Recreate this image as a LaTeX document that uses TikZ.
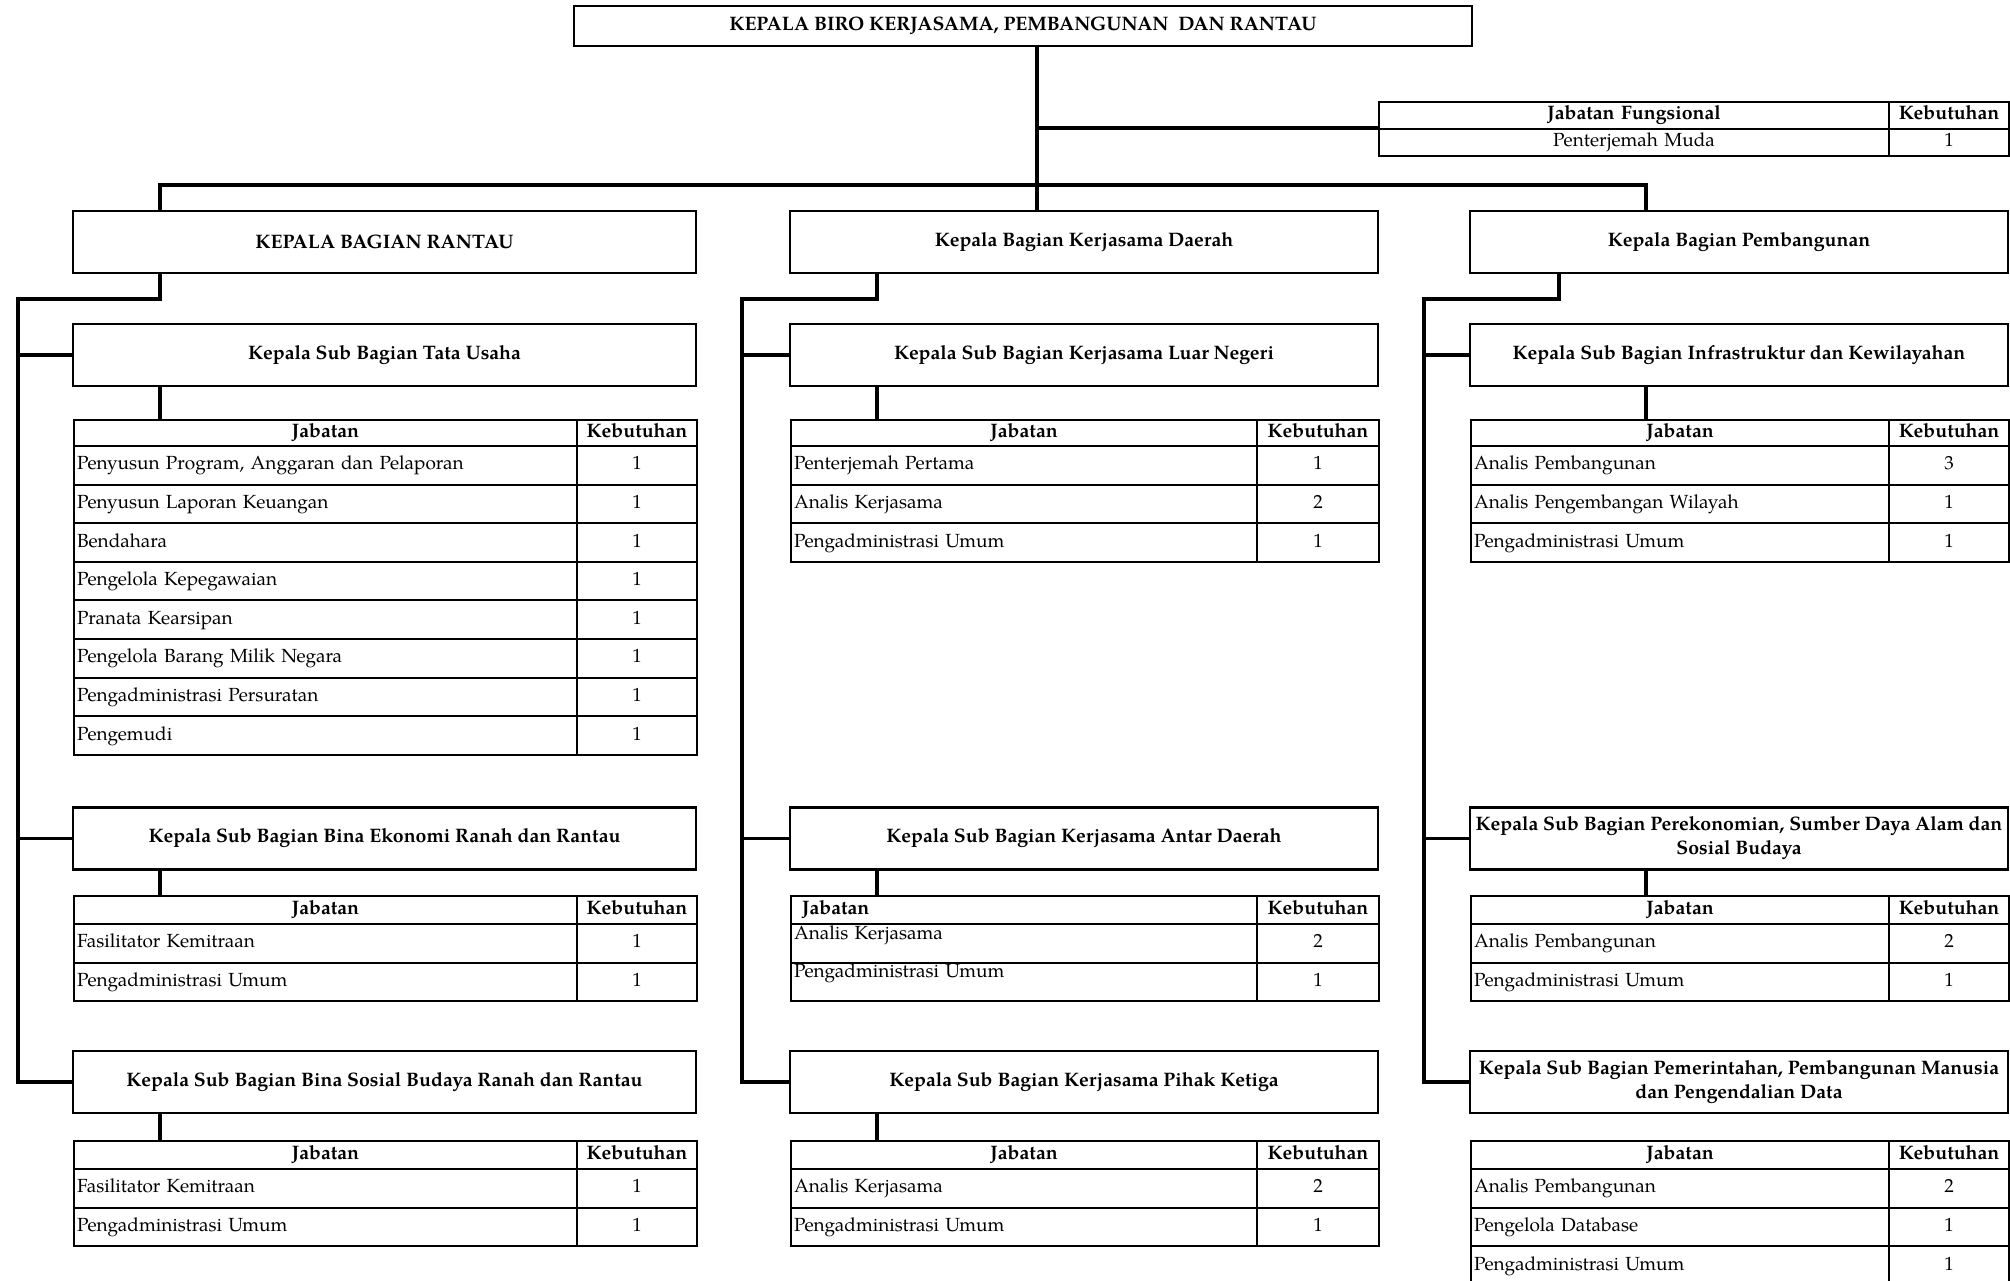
\documentclass[tikz,border=0pt]{standalone}
\usepackage{fontspec}
\setmainfont{TeX Gyre Pagella}
\usepackage{tikz}
\usetikzlibrary{positioning}

% table of jabatan: name, left, top, divider, right, header height, rows
\newcommand{\jabtable}[7]{%
  \pgfmathsetmacro\wlab{#4-#2-6}%
  \pgfmathsetmacro\wnum{#5-#4-6}%
  \node[jabhdl, text width=\wlab pt, minimum height=#6pt] (#1) at (#2,#3) {\jabhdtext};
  \node[jabhd, text width=\wnum pt, minimum height=#6pt] (#1-k) at (#4,#3) {Kebutuhan};
  \foreach \lab/\num [count=\rw from 0] in {#7}{
    \pgfmathsetmacro\yrow{#3+#6+\rw*38.6}
    \node[jablab, text width=\wlab pt] (#1-\rw) at (#2,\yrow) {\lab};
    \node[jabnum, text width=\wnum pt] (#1-\rw-n) at (#4,\yrow) {\num};
  }%
}
\newcommand{\jabhdtext}{Jabatan}

\begin{document}
\begin{tikzpicture}[
  x=1pt, y=-1pt,
  box/.style={draw, line width=2.4pt, align=center, inner sep=0pt,
    font=\bfseries\fontsize{19.5}{24}\selectfont},
  lbox/.style={box, minimum width=623pt, minimum height=62pt},
  mbox/.style={box, minimum width=588pt, minimum height=62pt},
  rbox/.style={box, minimum width=538pt, minimum height=62pt},
  link/.style={draw, line width=3.4pt},
  cell/.style={draw, line width=2pt, anchor=north west, inner ysep=0pt,
    inner xsep=3pt, text height=13.5pt, text depth=4.5pt,
    font=\fontsize{19}{24}\selectfont},
  jabhd/.style={cell, align=center, font=\bfseries\fontsize{19.5}{24}\selectfont},
  jabhdl/.style={jabhd},
  jablab/.style={cell, align=left, minimum height=38.6pt},
  jabnum/.style={cell, align=center, minimum height=38.6pt}
]
\path[use as bounding box, fill=white] (0,0) rectangle (2010,1281);

% columns of the connectors
\coordinate (xt) at (1037,0);
\coordinate (xl) at (160,0);
\coordinate (xm) at (877,0);
\coordinate (hr) at (1559,0);
\coordinate (xr) at (1646,0);
\coordinate (vl) at (18,0);
\coordinate (vm) at (742,0);
\coordinate (vr) at (1424,0);
\coordinate (bar) at (0,185);
\coordinate (elb) at (0,299);

% biro
\node[box, minimum width=898pt, minimum height=40pt] (biro) at (1023,26)
  {KEPALA BIRO KERJASAMA, PEMBANGUNAN\ \ DAN RANTAU};

% jabatan fungsional
\node[jabhd, text width=504pt, minimum height=27pt] (jf) at (1378,101) {Jabatan Fungsional};
\node[jabhd, text width=114pt, minimum height=27pt] (jf-k) at (1888,101) {Kebutuhan};
\node[jabnum, text width=504pt, minimum height=27pt] (jf-0) at (1378,128) {Penterjemah Muda};
\node[jabnum, text width=114pt, minimum height=27pt] (jf-0-n) at (1888,128) {1};

% bagian
\node[lbox] (rantau) at (384.5,242) {KEPALA BAGIAN RANTAU};
\node[mbox] (kerjasama) at (1084,242) {Kepala Bagian Kerjasama Daerah};
\node[rbox] (pembangunan) at (1739,242) {Kepala Bagian Pembangunan};

% sub bagian rantau
\node[lbox] (tu) at (384.5,355) {Kepala Sub Bagian Tata Usaha};
\node[lbox] (ekon) at (384.5,838.5) {Kepala Sub Bagian Bina Ekonomi Ranah dan Rantau};
\node[lbox] (sosbud) at (384.5,1082) {Kepala Sub Bagian Bina Sosial Budaya Ranah dan Rantau};

% sub bagian kerjasama
\node[mbox] (ln) at (1084,355) {Kepala Sub Bagian Kerjasama Luar Negeri};
\node[mbox] (ad) at (1084,838.5) {Kepala Sub Bagian Kerjasama Antar Daerah};
\node[mbox] (pk) at (1084,1082) {Kepala Sub Bagian Kerjasama Pihak Ketiga};

% sub bagian pembangunan
\node[rbox] (infra) at (1739,355) {Kepala Sub Bagian Infrastruktur dan Kewilayahan};
\node[rbox] (ekosda) at (1739,838.5) {Kepala Sub Bagian Perekonomian, Sumber Daya Alam dan\\Sosial Budaya};
\node[rbox] (pem) at (1739,1082) {Kepala Sub Bagian Pemerintahan, Pembangunan Manusia\\dan Pengendalian Data};

% tables
\jabtable{tu-tab}{73}{419}{576}{696}{26}{{Penyusun Program, Anggaran dan Pelaporan/1},
  Penyusun Laporan Keuangan/1, Bendahara/1, Pengelola Kepegawaian/1, Pranata Kearsipan/1,
  Pengelola Barang Milik Negara/1, Pengadministrasi Persuratan/1, Pengemudi/1}
\jabtable{ekon-tab}{73}{895}{576}{696}{28}{Fasilitator Kemitraan/1, Pengadministrasi Umum/1}
\jabtable{sosbud-tab}{73}{1140}{576}{696}{28}{Fasilitator Kemitraan/1, Pengadministrasi Umum/1}

\jabtable{ln-tab}{790}{419}{1256}{1378}{26}{Penterjemah Pertama/1, Analis Kerjasama/2, Pengadministrasi Umum/1}
\begin{scope}[jabhdl/.append style={align=left},
  jablab/.append style={minimum height=0pt, text height=15pt, text depth=23.6pt}]
\renewcommand{\jabhdtext}{\hspace*{8pt}Jabatan}
\jabtable{ad-tab}{790}{895}{1256}{1378}{28}{Analis Kerjasama/2, Pengadministrasi Umum/1}
\end{scope}
\jabtable{pk-tab}{790}{1140}{1256}{1378}{28}{Analis Kerjasama/2, Pengadministrasi Umum/1}

\jabtable{infra-tab}{1470}{419}{1888}{2008}{26}{Analis Pembangunan/3, Analis Pengembangan Wilayah/1, Pengadministrasi Umum/1}
\jabtable{ekosda-tab}{1470}{895}{1888}{2008}{28}{Analis Pembangunan/2, Pengadministrasi Umum/1}
\jabtable{pem-tab}{1470}{1140}{1888}{2008}{28}{Analis Pembangunan/2, Pengelola Database/1, Pengadministrasi Umum/1}

% connectors from the biro
\draw[link] (biro.south -| xt) -- (kerjasama.north -| xt);
\draw[link] (jf-0.north west -| xt) -- (jf-0.north west);
\draw[link] (rantau.north -| xl) |- (bar -| xt) -| (pembangunan.north -| xr);

% rantau
\draw[link] (rantau.south -| xl) |- (elb -| vl) -- (sosbud.west -| vl) -- (sosbud.west);
\foreach \b in {tu, ekon} \draw[link] (\b.west -| vl) -- (\b.west);
\foreach \b in {tu, ekon, sosbud} \draw[link] (\b.south -| xl) -- (\b-tab.north -| xl);

% kerjasama
\draw[link] (kerjasama.south -| xm) |- (elb -| vm) -- (pk.west -| vm) -- (pk.west);
\foreach \b in {ln, ad} \draw[link] (\b.west -| vm) -- (\b.west);
\foreach \b in {ln, ad, pk} \draw[link] (\b.south -| xm) -- (\b-tab.north -| xm);

% pembangunan
\draw[link] (pembangunan.south -| hr) |- (elb -| vr) -- (pem.west -| vr) -- (pem.west);
\foreach \b in {infra, ekosda} \draw[link] (\b.west -| vr) -- (\b.west);
\foreach \b in {infra, ekosda} \draw[link] (\b.south -| xr) -- (\b-tab.north -| xr);
\end{tikzpicture}
\end{document}
